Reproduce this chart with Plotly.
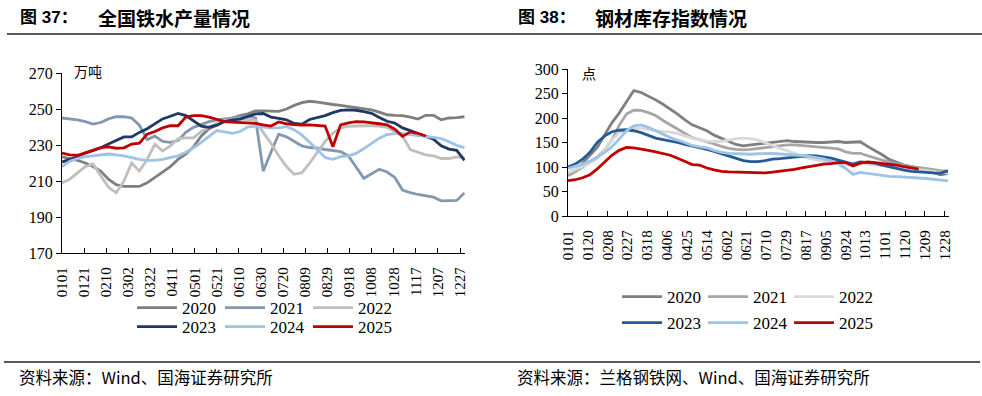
import plotly.graph_objects as go

W, H = 982, 396

years = ["2020", "2021", "2022", "2023", "2024", "2025"]

# ---------------- 图37 全国铁水产量 (万吨), weekly ----------------
iron_2020 = [223.4, 222.5, 221.5, 220, 218, 215.5, 211, 208, 207, 207, 207, 209, 212, 215.5, 218, 222, 225, 229,
             235, 239, 241, 243.5, 245, 246.3, 247.3, 249, 249, 248.7, 248.7, 250, 252, 253.5, 254.3, 253.8, 253,
             252.5, 252, 251.3, 251, 250.3, 249.5, 248.3, 246.8, 246.5, 246.3, 245.5, 244.4, 246.5, 246.5, 244,
             245, 245.2, 245.7]
iron_2021 = [245, 244.5, 244, 243, 241.6, 242.5, 244.5, 245.7, 245.7, 245, 241, 233, 235, 232, 231.5, 232.5, 237,
             239.8, 241.5, 243, 244, 244.5, 245, 245.5, 246, 245, 215.5, 226, 236, 234.5, 232, 229.5, 228.6, 228.3,
             227.5, 226.7, 226.3, 224, 218, 211.5, 214, 216.5, 215, 212, 205, 203.5, 202.5, 201.8, 201, 199, 199,
             199.2, 203.4]
iron_2022 = [209, 211, 214.5, 218, 219.5, 213, 206.5, 203.5, 210, 220, 215.5, 222, 230.4, 226.7, 229.5, 233.5, 234,
             234, 237.5, 240, 242, 243.5, 244.4, 244.4, 244.2, 243.8, 237, 231, 224, 218, 213.7, 214.6, 220, 226,
             232, 236.5, 239.5, 240.3, 240.7, 240.7, 240.7, 240.5, 239.8, 237.5, 235, 227.5, 225.8, 224.5, 224,
             222.5, 222.5, 223.4, 223]
iron_2023 = [220.5, 222, 223.5, 225.5, 227, 228.5, 230.5, 232.5, 234.5, 234.5, 237, 239, 242, 244.5, 246, 247.5,
             246.3, 243.5, 240.5, 239.8, 241, 243, 244, 244.4, 246, 247.3, 247.5, 245.5, 244.8, 244, 242, 241.6,
             244.2, 245.3, 246.3, 248, 249.2, 249.5, 249.3, 248.5, 247.6, 245.3, 243.2, 242.2, 239.5, 238, 236.5,
             235, 233.2, 229.5, 227.7, 227, 221.5]
iron_2024 = [218, 221, 222.5, 223.5, 224, 224.5, 225, 224.5, 224, 223, 222, 221.5, 221.5, 222, 223, 224, 226, 228.5,
             231.5, 234.5, 238, 237.3, 236.5, 237.5, 240, 240.5, 240, 239.5, 239.5, 240.2, 238.5, 235.5, 231.5,
             227.5, 223, 222, 223.5, 224, 225.3, 228, 231, 233.8, 235.8, 236.3, 236.3, 235.6, 235, 234.6, 234.2,
             233.6, 231.8, 229.8, 228.5]
iron_2025 = [225.5, 224.5, 224.3, 225.5, 227, 228.5, 229, 228.2, 228.4, 230.5, 231, 236, 237.5, 239.5, 240.7, 240.7,
             245.5, 246.3, 246.3, 245.5, 244.4, 243, 242.7, 242.5, 242.5, 242, 241.2, 240.5, 242.8, 241.8, 241.3,
             241, 241.2, 241, 240.5, 229, 241.2, 242.3, 243, 242.8, 242.5, 241.8, 241.2, 238.8, 234.8, 237.3,
             236.4, 235]
iron_ticks = ["0101", "0121", "0210", "0302", "0322", "0411", "0501", "0521", "0610", "0630", "0720", "0809",
              "0829", "0918", "1008", "1028", "1117", "1207", "1227"]

# ---------------- 图38 钢材库存指数 (点), weekly ----------------
stock_2020 = [85, 92, 108, 124, 140, 165, 190, 210, 232, 256, 252, 245, 237, 228, 218, 208, 196, 186, 180, 174, 165,
              158, 152, 146, 143, 145, 147, 148, 150, 152, 154, 152, 151, 150, 150, 150, 151, 152, 150, 151, 151.5,
              142, 134, 125, 115, 109, 104, 101, 97, 93, 89, 84, 87]
stock_2021 = [82, 90, 100, 110, 120, 135, 155, 185, 208, 216, 215.5, 211, 205, 195, 186, 177, 168, 160, 156, 152,
              147, 142, 138, 136, 135, 136, 138, 140, 142.5, 144, 145, 145, 144, 143, 141.5, 140, 138.5, 137, 131,
              128, 128, 123, 118, 114, 110, 106, 103, 101, 99, 97, 94, 92.5, 92]
stock_2022 = [88, 95, 101, 108, 118, 135, 155, 170, 176, 180, 179, 176, 174, 172, 171, 168, 163, 159, 156, 153,
              152, 152.5, 155, 158, 159, 158, 155, 150, 144, 138, 133, 128, 121, 117, 114, 112, 110, 107, 104, 106,
              108, 106, 104, 103, 101.5, 100, 98, 96, 94, 92, 90.5, 89, 88]
stock_2023 = [100, 106, 116, 130, 150, 163, 172, 175, 176, 174, 170, 164, 159, 156, 153.5, 150, 146, 143, 140, 136,
              132, 127, 123, 118, 113, 111, 111, 113, 116, 117, 118.5, 120, 121.5, 123, 122.5, 121, 118, 114, 110,
              106, 110.5, 109, 108, 104, 100, 97, 93.5, 91, 89.5, 88.5, 88, 87.4, 92]
stock_2024 = [97, 101, 106, 112, 120, 130, 141, 157, 174, 184, 186, 181, 174, 166, 160, 155, 149, 144, 141, 139,
              134, 130, 128, 127, 126, 126, 127, 128, 127.5, 126.5, 126, 125, 123.5, 121.5, 119, 116.5, 112, 106,
              97, 85, 89, 87, 84, 82, 81, 80.5, 80, 79, 77.5, 76.5, 75, 72.5, 71.5]
stock_2025 = [72, 74, 78, 84, 96, 110, 124, 134, 140, 139, 137, 134, 131, 128, 124, 118, 111, 105, 104, 98, 94, 91,
              90, 89.5, 89, 88, 87.5, 88, 89.5, 91, 93, 95, 98, 101, 103.5, 106, 107, 109, 109, 102, 108, 110.5,
              109, 107.5, 106, 104, 100.5, 98, 95.5]
stock_ticks = ["0101", "0120", "0208", "0227", "0318", "0406", "0425", "0514", "0602", "0621", "0710", "0729",
               "0817", "0905", "0924", "1013", "1101", "1120", "1209", "1228"]

iron_series = [iron_2020, iron_2021, iron_2022, iron_2023, iron_2024, iron_2025]
stock_series = [stock_2020, stock_2021, stock_2022, stock_2023, stock_2024, stock_2025]

iron_colors = ["#7f7f7f", "#8497b0", "#bfbfbf", "#1f3864", "#9dc3e6", "#c00000"]
stock_colors = ["#7f7f7f", "#a6a6a6", "#d9d9d9", "#245a96", "#9dc3e6", "#c00000"]

SERIF = "Liberation Serif"
CJK = "Noto Sans CJK SC"


def px_x(p):
    return p / W


def px_y(p):
    return 1 - p / H


fig = go.Figure()

for k, (yr, vals) in enumerate(zip(years, iron_series)):
    fig.add_trace(go.Scatter(
        x=[7 * i for i in range(len(vals))], y=vals, mode="lines", name=yr,
        line=dict(color=iron_colors[k], width=2.8), xaxis="x", yaxis="y",
        legend="legend" if k < 3 else "legend2"))

for k, (yr, vals) in enumerate(zip(years, stock_series)):
    fig.add_trace(go.Scatter(
        x=[7 * i for i in range(len(vals))], y=vals, mode="lines", name=yr,
        line=dict(color=stock_colors[k], width=2.8), xaxis="x2", yaxis="y2",
        legend="legend3" if k < 3 else "legend4"))

axis_common = dict(showgrid=False, zeroline=False, showline=True, linecolor="#000000", linewidth=1.3,
                   tickcolor="#000000", ticklen=5, tickwidth=1.3, automargin=False)

fig.update_layout(
    width=W, height=H,
    margin=dict(l=0, r=0, t=0, b=0, autoexpand=False),
    paper_bgcolor="white", plot_bgcolor="white",
    xaxis=dict(domain=[px_x(62), px_x(465)], range=[0, 364.5], anchor="y",
               tickmode="array", tickvals=[20 * i for i in range(len(iron_ticks))], ticktext=iron_ticks,
               tickangle=-90, ticks="inside", ticklabelstandoff=7,
               tickfont=dict(family=SERIF, size=15, color="#000"), **axis_common),
    yaxis=dict(domain=[px_y(253), px_y(73)], range=[170, 270], anchor="x", tick0=170, dtick=20,
               ticks="outside", tickfont=dict(family=SERIF, size=16, color="#000"), **axis_common),
    xaxis2=dict(domain=[px_x(568), px_x(949)], range=[0, 365], anchor="y2",
                tickmode="array", tickvals=[19 * i for i in range(len(stock_ticks))], ticktext=stock_ticks,
                tickangle=-90, ticks="inside", ticklabelstandoff=7,
                tickfont=dict(family=SERIF, size=15, color="#000"), **axis_common),
    yaxis2=dict(domain=[px_y(216), px_y(69)], range=[0, 300], anchor="x2", tick0=0, dtick=50,
                ticks="outside", tickfont=dict(family=SERIF, size=16, color="#000"), **axis_common),
    showlegend=True,
)

leg_common = dict(orientation="h", xanchor="left", yanchor="middle", bgcolor="rgba(0,0,0,0)",
                  font=dict(family=SERIF, size=17, color="#000"), itemwidth=40,
                  tracegroupgap=0, borderwidth=0)
fig.update_layout(
    legend=dict(x=px_x(132), y=px_y(308), entrywidth=33, **leg_common),
    legend2=dict(x=px_x(132), y=px_y(327), entrywidth=33, **leg_common),
    legend3=dict(x=px_x(617), y=px_y(297), entrywidth=31, **leg_common),
    legend4=dict(x=px_x(617), y=px_y(323), entrywidth=31, **leg_common),
)

annotations = [
    dict(x=px_x(18), y=px_y(18), text="<b>图 37：</b>", font=dict(family="Liberation Sans, " + CJK, size=17, color="#000")),
    dict(x=px_x(96), y=px_y(18), text="<b>全国铁水产量情况</b>", font=dict(family=CJK, size=19, color="#000")),
    dict(x=px_x(516), y=px_y(18), text="<b>图 38：</b>", font=dict(family="Liberation Sans, " + CJK, size=17, color="#000")),
    dict(x=px_x(593), y=px_y(18), text="<b>钢材库存指数情况</b>", font=dict(family=CJK, size=19, color="#000")),
    dict(x=px_x(72), y=px_y(71), text="万吨", font=dict(family=CJK, size=14, color="#000")),
    dict(x=px_x(580), y=px_y(73), text="点", font=dict(family=CJK, size=14, color="#000")),
    dict(x=px_x(17), y=px_y(377), text="资料来源：Wind、国海证券研究所", font=dict(family=CJK, size=16.5, color="#000")),
    dict(x=px_x(515), y=px_y(377), text="资料来源：兰格钢铁网、Wind、国海证券研究所", font=dict(family=CJK, size=16.5, color="#000")),
]
for a in annotations:
    a.update(xref="paper", yref="paper", xanchor="left", yanchor="middle", showarrow=False)
fig.update_layout(annotations=annotations)

fig.update_layout(shapes=[
    dict(type="line", xref="paper", yref="paper", x0=px_x(7), x1=1, y0=px_y(34), y1=px_y(34),
         line=dict(color="#222", width=1.5)),
    dict(type="line", xref="paper", yref="paper", x0=px_x(4), x1=px_x(980), y0=px_y(362), y1=px_y(362),
         line=dict(color="#222", width=1.5)),
])

fig.write_html("out.html", config={"displayModeBar": False},
               post_script="document.body.style.margin='0';document.body.style.overflow='hidden';")
